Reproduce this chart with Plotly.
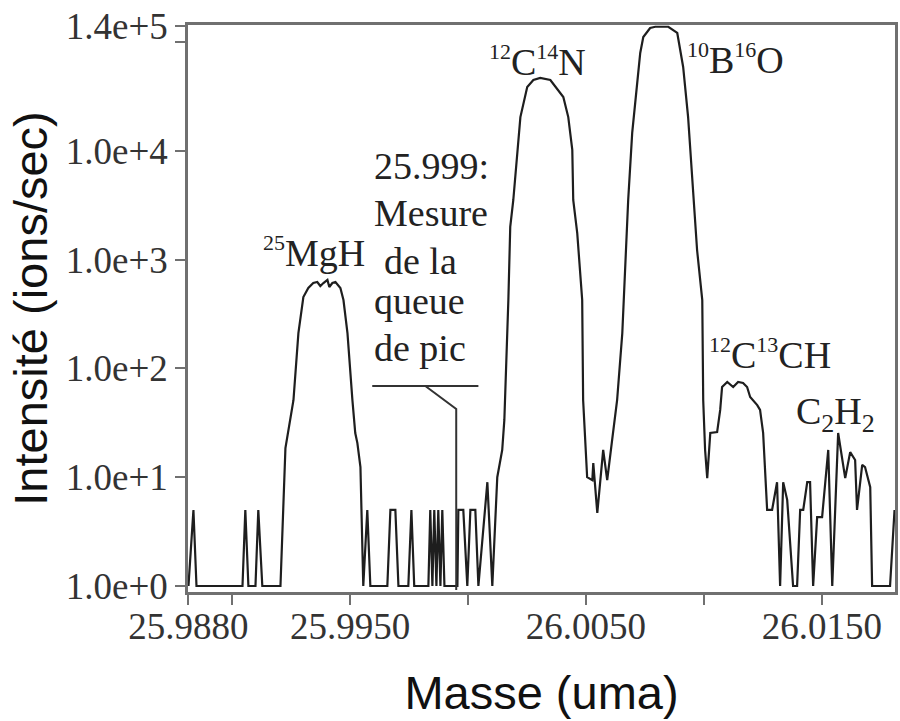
import numpy as np
import plotly.graph_objects as go

# ---- data (mass in uma, intensity in ions/sec) ----
mass = [
    25.98815, 25.98836, 25.98849, 25.99044, 25.99056, 25.99069, 25.99099, 25.99111, 25.99128,
    25.99205, 25.99226, 25.99247, 25.99260, 25.99281, 25.99302, 25.99323, 25.99344, 25.99361,
    25.99374, 25.99387, 25.99404, 25.99412, 25.99425, 25.99438, 25.99459, 25.99472, 25.99489,
    25.99510, 25.99522, 25.99531, 25.99544, 25.99556, 25.99573, 25.99586, 25.99658, 25.99671,
    25.99692, 25.99705, 25.99747, 25.99760, 25.99772, 25.99832, 25.99840, 25.99849, 25.99857,
    25.99866, 25.99874, 25.99883, 25.99891, 25.99900, 25.99955, 25.99959, 25.99980, 25.99997,
    26.00010, 26.00031, 26.00044, 26.00082, 26.00103, 26.00124, 26.00145, 26.00154, 26.00162,
    26.00171, 26.00179, 26.00192, 26.00222, 26.00251, 26.00277, 26.00306, 26.00349, 26.00404,
    26.00425, 26.00442, 26.00446, 26.00463, 26.00484, 26.00488, 26.00505, 26.00527, 26.00531,
    26.00548, 26.00573, 26.00590, 26.00611, 26.00632, 26.00654, 26.00666, 26.00679, 26.00696,
    26.00717, 26.00730, 26.00743, 26.00772, 26.00794, 26.00849, 26.00887, 26.00912, 26.00933,
    26.00955, 26.00971, 26.00993, 26.00997, 26.01005, 26.01014, 26.01027, 26.01056, 26.01069,
    26.01077, 26.01099, 26.01124, 26.01145, 26.01166, 26.01183, 26.01196, 26.01226, 26.01238,
    26.01251, 26.01268, 26.01289, 26.01310, 26.01323, 26.01336, 26.01353, 26.01378, 26.01395,
    26.01408, 26.01421, 26.01438, 26.01450, 26.01463, 26.01480, 26.01501, 26.01527, 26.01544,
    26.01569, 26.01599, 26.01620, 26.01641, 26.01649, 26.01671, 26.01683, 26.01705, 26.01713,
    26.01789, 26.01808,
]
intensity = [
    1, 5, 1, 1, 5, 1, 1, 5, 1,
    1, 18.5, 33.6, 51, 211, 453, 548, 609, 622,
    572, 609, 650, 560, 609, 622, 548, 425, 211,
    51, 25.5, 20.6, 12.4, 1, 5, 1, 1, 5,
    5, 1, 1, 5, 1, 1, 5, 1, 5,
    1, 5, 1, 5, 1, 1, 5, 5, 1,
    5, 5, 1, 9, 1, 10, 17.8, 33.6, 97,
    425, 1995, 3530, 20400, 38600, 44700, 46700, 44700, 31200,
    20400, 10200, 3530, 1750, 425, 51, 10, 9.4, 13.5,
    4.7, 17.8, 9.4, 22, 51, 211, 855, 3530, 14600,
    42000, 79300, 111000, 134500, 138000, 138000, 121000, 58900, 20400,
    3530, 1225, 425, 51, 17.8, 9.8, 25.5, 26, 41.5,
    67.5, 75, 67.5, 75, 73.5, 67.5, 54.6, 46, 41.5,
    25.5, 5, 5, 9, 1, 9, 6.2, 1, 1,
    5, 5, 9, 9, 1, 4.3, 4.3, 17.8, 1,
    25.5, 9.8, 17, 14.4, 5, 13, 12.4, 8.1, 1,
    1, 5,
]

x_tickvals = [25.98815, 25.990, 25.995, 26.000, 26.005, 26.010, 26.015]
x_ticktext = ["25.9880", "", "25.9950", "", "26.0050", "", "26.0150"]
y_tickvals = [1, 10, 100, 1000, 10000, 100000, 140000]
y_ticktext = ["1.0e+0", "1.0e+1", "1.0e+2", "1.0e+3", "1.0e+4", "", "1.4e+5"]

# pointer for the "25.999" annotation
ptr_h_x = [25.99594, 26.00044]
ptr_h_y = [69, 69]
ptr_d_x = [25.99819, 25.99950, 25.99950]
ptr_d_y = [69, 42.4, 0.92]

SERIF = "Liberation Serif"
SANS = "Liberation Sans"


def sup(t):
    return "<sup><span style='font-size:22px'>" + t + "</span></sup>"


def sub(t):
    return "<sub><span style='font-size:26px'>" + t + "</span></sub>"


fig = go.Figure()
fig.add_trace(go.Scatter(x=mass, y=intensity, mode="lines",
                         line=dict(color="#1e1e1e", width=2.2), showlegend=False))
fig.add_trace(go.Scatter(x=ptr_h_x, y=ptr_h_y, mode="lines",
                         line=dict(color="#333333", width=2), showlegend=False))
fig.add_trace(go.Scatter(x=ptr_d_x, y=ptr_d_y, mode="lines",
                         line=dict(color="#333333", width=2), showlegend=False))

ann_font = dict(family=SERIF, size=38, color="#222222")
labels = [
    (sup("25") + "MgH", 25.99349, 3.070, "center"),
    (sup("12") + "C" + sup("14") + "N", 26.00294, 4.825, "center"),
    (sup("10") + "B" + sup("16") + "O", 26.01132, 4.844, "center"),
    (sup("12") + "C" + sup("13") + "CH", 26.01281, 2.132, "center"),
    ("C" + sub("2") + "H" + sub("2"), 26.01556, 1.581, "center"),
    ("25.999:", 25.99594, (586 - 166) / 108.8, "left"),
    ("Mesure", 25.99594, (586 - 213) / 108.8, "left"),
    ("de la", 25.99637, (586 - 261) / 108.8, "left"),
    ("queue", 25.99594, (586 - 301) / 108.8, "left"),
    ("de pic", 25.99594, (586 - 348) / 108.8, "left"),
]
for txt, ax_, ay_, anc in labels:
    fig.add_annotation(x=ax_, y=ay_, xref="x", yref="y", text=txt, showarrow=False,
                       xanchor=anc, yanchor="middle", font=ann_font)

axis_common = dict(showline=True, linecolor="#707070", linewidth=2.5, mirror=True,
                   ticks="outside", ticklen=10, tickwidth=2, tickcolor="#707070",
                   showgrid=False, zeroline=False,
                   tickfont=dict(family=SERIF, size=37, color="#333333"))

fig.update_xaxes(range=[25.98813, 26.01810], tickmode="array", tickvals=x_tickvals,
                 ticktext=x_ticktext, tickangle=0, ticklabelstandoff=-10,
                 title=dict(text="Masse (uma)", font=dict(family=SANS, size=47, color="#111111"),
                            standoff=30),
                 **axis_common)
fig.update_yaxes(type="log", range=[-0.055, 5.156], tickmode="array", tickvals=y_tickvals,
                 ticktext=y_ticktext,
                 title=dict(text="Intensité (ions/sec)", font=dict(family=SANS, size=47, color="#111111"),
                            standoff=4),
                 **axis_common)

fig.update_layout(width=900, height=721, margin=dict(l=188, r=5, t=25, b=129, autoexpand=False),
                  plot_bgcolor="white", paper_bgcolor="white")

fig.write_html("out.html")
